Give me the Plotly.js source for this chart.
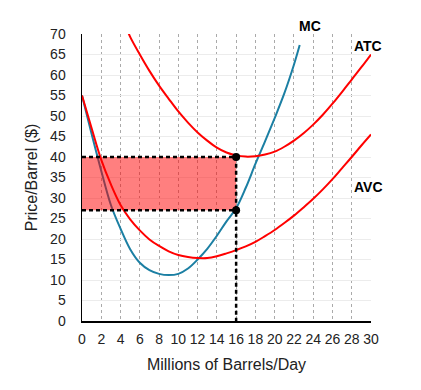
<!DOCTYPE html>
<html>
<head>
<meta charset="utf-8">
<script src="https://cdn.plot.ly/plotly-3.0.1.min.js"></script>
<style>html,body{margin:0;padding:0;background:#fff;}#chart{width:421px;height:390px;}</style>
</head>
<body>
<div id="chart"></div>
<script>
// Marginal cost
const mcX = [0, 1, 2, 3, 4, 5, 6, 7, 8, 9, 10, 11, 12, 13, 14, 15, 16, 17, 18, 19, 20, 21, 22, 22.6];
const mcY = [55, 45.6, 36.6, 28.3, 22.5, 17.5, 14.2, 12.4, 11.5, 11.2, 11.5, 12.8, 15.0, 17.6, 20.8, 24.3, 27.5, 32.5, 38.3, 43.8, 49.5, 55.5, 62.5, 67.3];
// Average total cost
const atcX = [4.7, 5, 6, 7, 8, 9, 10, 11, 12, 13, 14, 15, 16, 17, 18, 19, 20, 21, 22, 23, 24, 25, 26, 27, 28, 29, 30];
const atcY = [71, 69.3, 65.0, 61.0, 57.4, 54.2, 51.1, 48.4, 46.0, 44.0, 42.3, 41.1, 40.4, 40.1, 40.2, 40.6, 41.3, 42.5, 44.0, 45.8, 47.9, 50.3, 53.0, 55.9, 58.9, 61.9, 65.0];
// Average variable cost
const avcX = [0, 1, 2, 3, 4, 5, 6, 7, 8, 9, 10, 11, 12, 13, 14, 15, 16, 17, 18, 19, 20, 21, 22, 23, 24, 25, 26, 27, 28, 29, 30];
const avcY = [55, 47.0, 39.3, 33.3, 28.3, 24.8, 22.1, 19.9, 18.3, 17.0, 16.1, 15.6, 15.35, 15.35, 15.8, 16.5, 17.3, 18.2, 19.3, 20.7, 22.2, 23.9, 25.7, 27.7, 29.8, 32.1, 34.6, 37.3, 40.0, 42.8, 45.5];
// Loss area and guide values
const quantity = 16;
const price = 27;
const atcAtQ = 40;
const xTicks = [0, 2, 4, 6, 8, 10, 12, 14, 16, 18, 20, 22, 24, 26, 28, 30];
const yTicks = [0, 5, 10, 15, 20, 25, 30, 35, 40, 45, 50, 55, 60, 65, 70];
const curveLabels = ["MC", "ATC", "AVC"];

const teal = "#1b7fa3";
const red = "#ff0000";
const font = "Liberation Sans, Arial, Helvetica, sans-serif";
const dashStyle = "4px,3px";

const traces = [
  {x: mcX, y: mcY, mode: "lines", line: {color: teal, width: 2, shape: "spline"}, hoverinfo: "skip"},
  {x: [0, quantity, quantity, 0, 0], y: [price, price, atcAtQ, atcAtQ, price], mode: "lines", fill: "toself",
   fillcolor: "rgba(255,0,0,0.5)", line: {width: 0}, hoverinfo: "skip"},
  {x: atcX, y: atcY, mode: "lines", line: {color: red, width: 2, shape: "spline"}, hoverinfo: "skip"},
  {x: avcX, y: avcY, mode: "lines", line: {color: red, width: 2, shape: "spline"}, hoverinfo: "skip"},
  {x: [0, quantity, quantity], y: [atcAtQ, atcAtQ, 0], mode: "lines", line: {color: "#000", width: 2.5, dash: dashStyle}, hoverinfo: "skip"},
  {x: [0, quantity], y: [price, price], mode: "lines", line: {color: "#000", width: 2.5, dash: dashStyle}, hoverinfo: "skip"},
  {x: [quantity, quantity], y: [atcAtQ, price], mode: "markers", marker: {color: "#000", size: 8}, hoverinfo: "skip"}
];

const layout = {
  width: 421, height: 390,
  margin: {l: 82, r: 50, t: 34, b: 69},
  paper_bgcolor: "#fff", plot_bgcolor: "#fff",
  showlegend: false,
  font: {family: font, size: 14, color: "#222"},
  xaxis: {
    range: [0, 30], tickvals: xTicks, ticktext: xTicks.map(String),
    showline: true, linecolor: "#000", linewidth: 1.5,
    showgrid: true, gridcolor: "#aaa", griddash: "dot", gridwidth: 1,
    zeroline: false, ticks: "", ticklabelstandoff: 5,
    tickfont: {family: font, size: 14, color: "#222"},
    title: {text: "Millions of Barrels/Day", font: {family: font, size: 16, color: "#222"}, standoff: 12},
    fixedrange: true
  },
  yaxis: {
    range: [0, 70], tickvals: yTicks, ticktext: yTicks.map(String),
    showline: true, linecolor: "#000", linewidth: 1.5,
    showgrid: true, gridcolor: "#ececec", gridwidth: 1,
    zeroline: false, ticks: "", ticklabelstandoff: 12,
    tickfont: {family: font, size: 14, color: "#222"},
    title: {text: "Price/Barrel ($)", font: {family: font, size: 16, color: "#222"}, standoff: 8},
    fixedrange: true
  },
  annotations: [
    {x: 0.789, y: 1.028, xref: "paper", yref: "paper", xanchor: "center", yanchor: "middle", text: "<b>" + curveLabels[0] + "</b>", showarrow: false, font: {family: font, size: 14, color: "#000"}},
    {x: 29.7, y: 67.0, xref: "x", yref: "y", xanchor: "center", yanchor: "middle", text: "<b>" + curveLabels[1] + "</b>", showarrow: false, font: {family: font, size: 14, color: "#000"}},
    {x: 29.7, y: 32.8, xref: "x", yref: "y", xanchor: "center", yanchor: "middle", text: "<b>" + curveLabels[2] + "</b>", showarrow: false, font: {family: font, size: 14, color: "#000"}}
  ]
};

Plotly.newPlot("chart", traces, layout, {staticPlot: true, displayModeBar: false});
</script>
</body>
</html>
